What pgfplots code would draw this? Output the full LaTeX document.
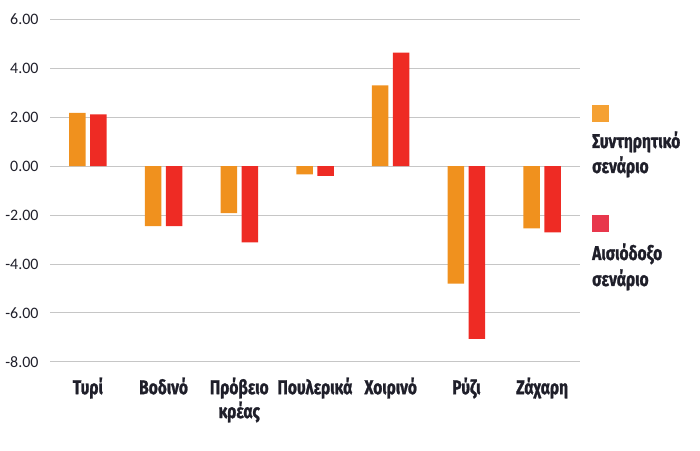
\documentclass[border=0pt]{standalone}
\usepackage{pgfplots}
\pgfplotsset{compat=1.18}
\usepackage{pgfplotstable}
\usepackage{fontspec}
\setmainfont{Carlito}
\newfontfamily\labelfont[FakeStretch=0.78, BoldFeatures={FakeBold=1.2}]{Fira Sans}
\definecolor{orangebar}{HTML}{F0911E}
\definecolor{redbar}{HTML}{EE2B24}
\definecolor{orangeleg}{HTML}{F5A133}
\definecolor{redleg}{HTML}{E8374C}
\definecolor{gridgray}{HTML}{C6C6C6}
\definecolor{textdark}{HTML}{1F1F2A}

\pgfplotstableread{
x cons opt
0 2.17 2.11
1 -2.45 -2.45
2 -1.92 -3.12
3 -0.34 -0.40
4 3.29 4.63
5 -4.80 -7.06
6 -2.55 -2.71
}\datatable

\begin{document}
\begin{tikzpicture}
\useasboundingbox (0,0) rectangle (700bp,451bp);
\begin{axis}[
  at={(50bp,89bp)}, anchor=south west,
  scale only axis, width=530bp, height=343bp,
  xmin=-0.5, xmax=6.5, ymin=-8, ymax=6,
  axis line style={draw=none},
  ytick={-8,-6,...,6},
  yticklabels={-8.00,-6.00,-4.00,-2.00,0.00,2.00,4.00,6.00},
  xtick={0,...,6},
  xticklabels={Τυρί,Βοδινό,{Πρόβειο\\κρέας},Πουλερικά,Χοιρινό,Ρύζι,Ζάχαρη},
  major tick length=0,
  ymajorgrids, grid style={gridgray, line width=1bp},
  yticklabel style={font=\fontsize{16}{19}\selectfont, text=textdark, anchor=east, xshift=-8bp},
  xticklabel style={font=\labelfont\bfseries\fontsize{20}{24}\selectfont, text=textdark, align=center, anchor=north, yshift=-12bp},
  bar width=16.5bp,
  clip=false,
]
\addplot[ybar, fill=orangebar, draw=none, bar shift=-10.5bp] table[x=x,y=cons]{\datatable};
\addplot[ybar, fill=redbar, draw=none, bar shift=10.5bp] table[x=x,y=opt]{\datatable};
\end{axis}
\fill[orangeleg] (592bp,329bp) rectangle (609bp,346bp);
\fill[redleg] (592bp,219bp) rectangle (609bp,236bp);
\begin{scope}[every node/.style={anchor=base west, inner sep=0pt, text=textdark, font=\labelfont\bfseries\fontsize{20}{24}\selectfont}]
\node at (592bp,303bp) {Συντηρητικό};
\node at (592bp,278bp) {σενάριο};
\node at (592bp,191bp) {Αισιόδοξο};
\node at (592bp,165bp) {σενάριο};
\end{scope}
\end{tikzpicture}
\end{document}
